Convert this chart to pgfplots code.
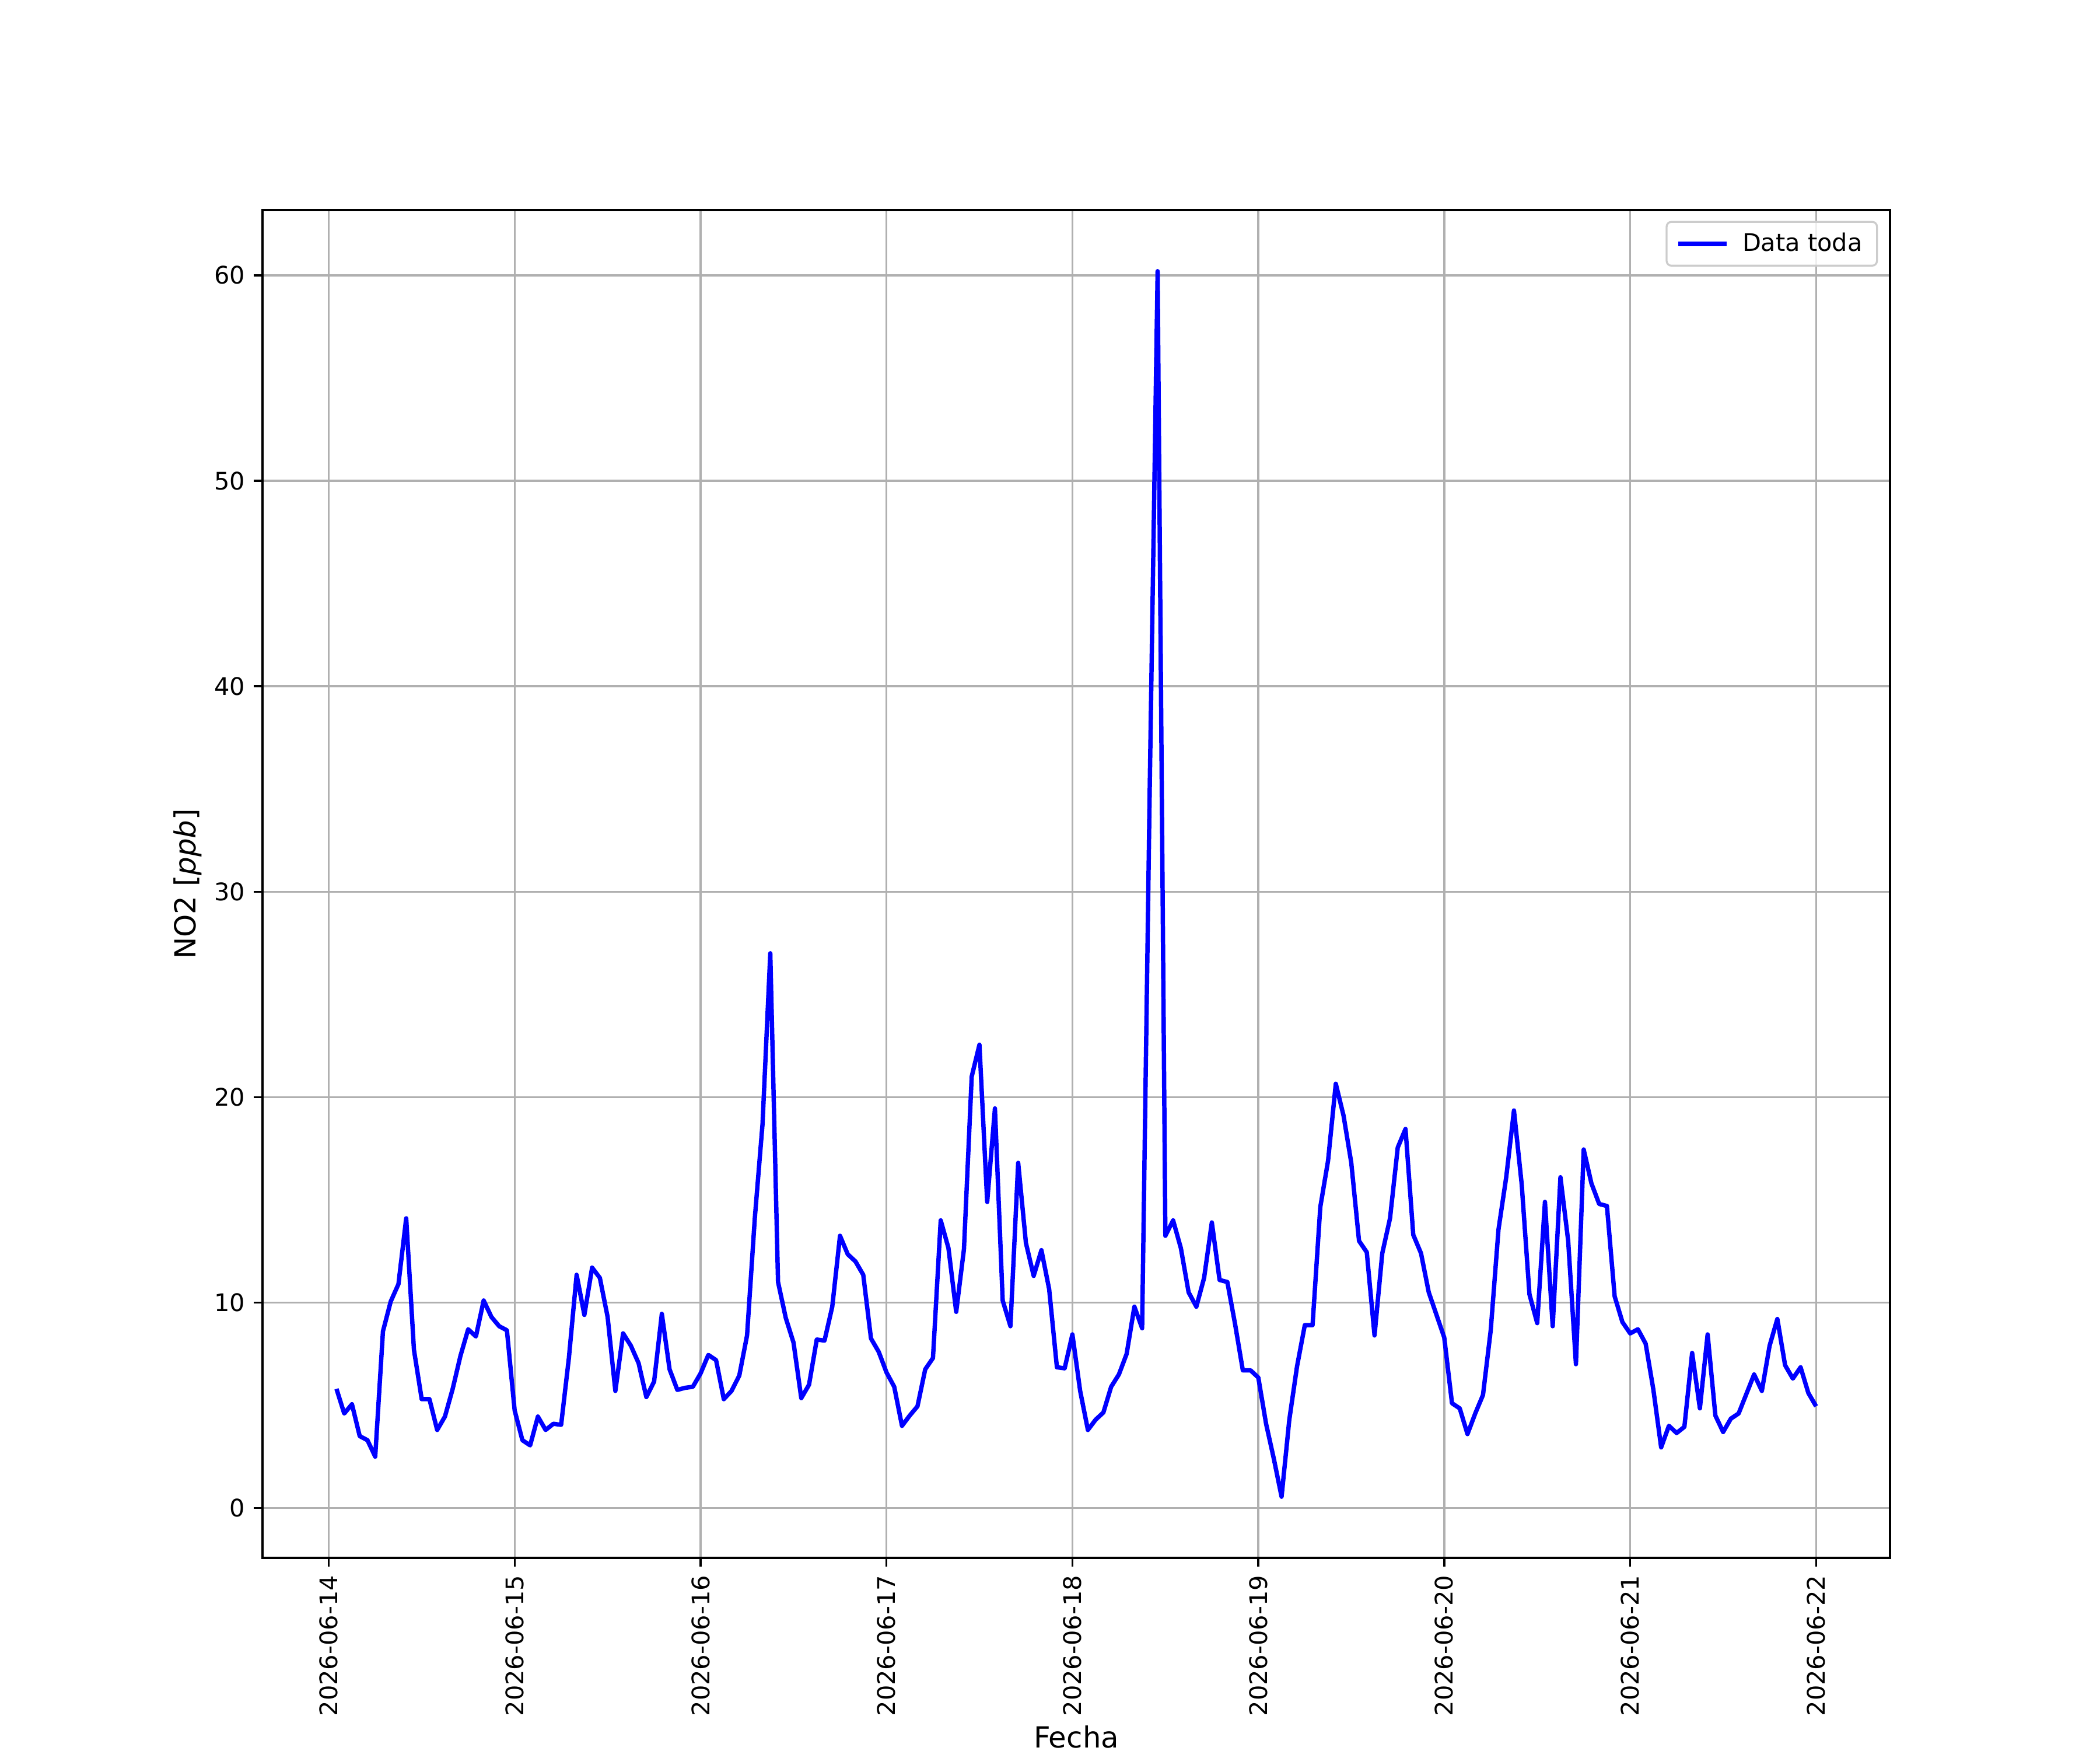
\documentclass[border=0pt]{standalone}
\usepackage{fontspec}
\setmainfont{DejaVu Sans}
\usepackage{pgfplots}
\usepackage{pgfplotstable}
\pgfplotsset{compat=1.18}
\definecolor{gridgray}{HTML}{B0B0B0}
\definecolor{legframe}{HTML}{CCCCCC}
\pgfplotstableread{
x y
1 5.8
2 4.6
3 5.05
4 3.5
5 3.3
6 2.5
7 8.6
8 10.05
9 10.9
10 14.1
11 7.7
12 5.3
13 5.3
14 3.8
15 4.45
16 5.8
17 7.4
18 8.7
19 8.35
20 10.1
21 9.3
22 8.85
23 8.65
24 4.75
25 3.3
26 3.05
27 4.45
28 3.8
29 4.1
30 4.05
31 7.3
32 11.35
33 9.4
34 11.7
35 11.2
36 9.3
37 5.7
38 8.5
39 7.9
40 7.05
41 5.4
42 6.15
43 9.45
44 6.75
45 5.75
46 5.85
47 5.9
48 6.55
49 7.45
50 7.2
51 5.3
52 5.7
53 6.45
54 8.4
55 14.1
56 18.7
57 27.0
58 11.0
59 9.25
60 8.05
61 5.35
62 6.0
63 8.2
64 8.15
65 9.8
66 13.25
67 12.35
68 12.0
69 11.35
70 8.25
71 7.6
72 6.6
73 5.9
74 4.0
75 4.5
76 4.95
77 6.75
78 7.3
79 14.0
80 12.65
81 9.55
82 12.6
83 21.0
84 22.55
85 14.9
86 19.45
87 10.1
88 8.85
89 16.8
90 12.9
91 11.3
92 12.55
93 10.65
94 6.85
95 6.8
96 8.45
97 5.7
98 3.8
99 4.3
100 4.65
101 5.9
102 6.5
103 7.5
104 9.8
105 8.75
106 35.5
107 60.2
108 13.25
109 14.0
110 12.65
111 10.5
112 9.8
113 11.2
114 13.9
115 11.1
116 11.0
117 8.95
118 6.7
119 6.7
120 6.35
121 4.1
122 2.4
123 0.55
124 4.3
125 6.9
126 8.9
127 8.9
128 14.65
129 16.9
130 20.65
131 19.1
132 16.8
133 13.0
134 12.45
135 8.4
136 12.4
137 14.1
138 17.55
139 18.45
140 13.3
141 12.4
142 10.5
143 9.4
144 8.3
145 5.1
146 4.85
147 3.6
148 4.6
149 5.5
150 8.65
151 13.55
152 16.1
153 19.35
154 15.75
155 10.4
156 9.0
157 14.9
158 8.85
159 16.1
160 13.0
161 7.0
162 17.45
163 15.8
164 14.8
165 14.7
166 10.3
167 9.05
168 8.5
169 8.7
170 8.0
171 5.75
172 2.95
173 4.0
174 3.65
175 3.95
176 7.55
177 4.85
178 8.45
179 4.5
180 3.7
181 4.35
182 4.6
183 5.55
184 6.5
185 5.7
186 7.9
187 9.2
188 6.95
189 6.3
190 6.85
191 5.6
192 4.95
}\datatoda
\begin{document}
\begin{tikzpicture}
\begin{axis}[
  at={(0,0)}, anchor=south west,
  scale only axis,
  width=672.1pt, height=556.5pt,
  xmin=-8.55, xmax=201.55,
  ymin=-2.43, ymax=63.18,
  xtick={0,24,48,72,96,120,144,168,192},
  xticklabels={2026-06-14,2026-06-15,2026-06-16,2026-06-17,2026-06-18,2026-06-19,2026-06-20,2026-06-21,2026-06-22},
  ytick={0,10,20,30,40,50,60},
  yticklabels={0,10,20,30,40,50,60},
  xticklabel style={rotate=90, anchor=east, font=\fontsize{10}{12}\selectfont, inner sep=0pt, xshift=-3.5pt},
  yticklabel style={font=\fontsize{10}{12}\selectfont, inner sep=0pt, xshift=-3.5pt},
  /pgf/number format/assume math mode=true,
  tick align=outside,
  major tick length=3.5pt,
  tick style={black, line width=0.8pt},
  xtick pos=bottom, ytick pos=left,
  axis line style={black, line width=0.8pt},
  grid=major,
  major grid style={gridgray, line width=0.8pt},
  every axis x label/.style={at={(axis description cs:0.5,0)}, anchor=base, yshift=-78.4pt, font=\fontsize{12}{14}\selectfont},
  every axis y label/.style={at={(axis description cs:0,0.5)}, xshift=-31pt, rotate=90, anchor=center, font=\fontsize{12}{14}\selectfont},
  xlabel={Fecha},
  ylabel={NO2 [\textit{ppb}]},
  legend style={at={(1,1)}, anchor=north east, xshift=-5pt, yshift=-4.5pt,
    draw=legframe, line width=0.8pt, rounded corners=2pt,
    fill=white, fill opacity=0.8, draw opacity=1, text opacity=1,
    font=\fontsize{10}{12}\selectfont, inner xsep=4pt, inner ysep=2.5pt,
    column sep=3.5pt},
  legend cell align=left,
  legend image code/.code={\draw[#1] (0pt,0pt) -- (20pt,0pt);},
]
\addplot[color={rgb,255:red,0;green,0;blue,255}, line width=1.8pt, line join=round] table[x=x, y=y] {\datatoda};
\addlegendentry{Data toda}
\end{axis}
\pgfresetboundingbox
\path[use as bounding box] (-108.4pt,-79.5pt) rectangle (758.8pt,643.2pt);
\end{tikzpicture}
\end{document}
